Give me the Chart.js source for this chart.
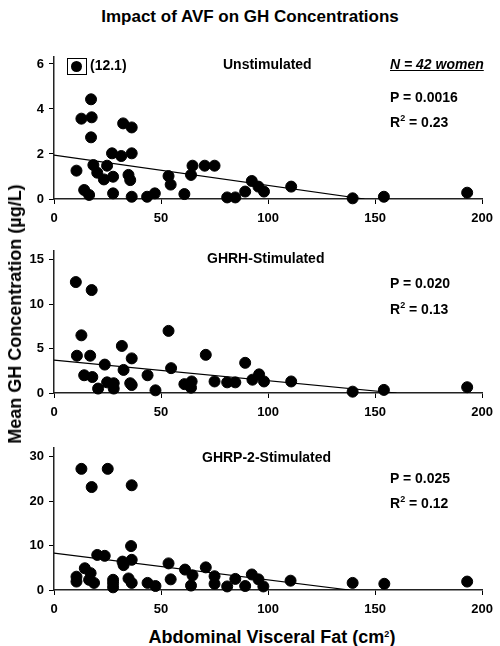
<!DOCTYPE html>
<html>
<head>
<meta charset="utf-8">
<script src="https://cdn.jsdelivr.net/npm/chart.js@4.4.1/dist/chart.umd.min.js"></script>
<style>
  body { margin: 0; width: 500px; height: 646px; position: relative; background: #fff; overflow: hidden;
         font-family: "Liberation Sans", Arial, sans-serif; font-weight: bold; color: #000; }
  canvas { position: absolute; left: 0; }
  .t { position: absolute; white-space: nowrap; font-size: 14px; line-height: 1; transform: translateY(-50%); }
  .c { transform: translate(-50%, -50%); }
  sup { font-size: 9px; vertical-align: 6px; line-height: 0; }
  .box { position: absolute; left: 67px; top: 58px; width: 18px; height: 15px; border: 1px solid #000; }
  .box div { position: absolute; left: 3px; top: 2px; width: 11px; height: 11px; border-radius: 50%; background: #000; }
</style>
</head>
<body>
<div class="t c" style="left:250px;top:16px;font-size:17px">Impact of AVF on GH Concentrations</div>

<canvas id="chartA" width="500" height="190" style="top:40px"></canvas>
<canvas id="chartB" width="500" height="190" style="top:234px"></canvas>
<canvas id="chartC" width="500" height="190" style="top:431px"></canvas>

<div class="box"><div></div></div>
<div class="t" style="left:90px;top:65px">(12.1)</div>
<div class="t" style="left:223px;top:64px">Unstimulated</div>
<div class="t" style="left:390px;top:64px;font-style:italic;text-decoration:underline">N = 42 women</div>
<div class="t" style="left:390px;top:97px">P = 0.0016</div>
<div class="t" style="left:390px;top:122px">R<sup>2</sup> = 0.23</div>

<div class="t" style="left:207px;top:258px">GHRH-Stimulated</div>
<div class="t" style="left:390px;top:283px">P = 0.020</div>
<div class="t" style="left:390px;top:309px">R<sup>2</sup> = 0.13</div>

<div class="t" style="left:202px;top:457px">GHRP-2-Stimulated</div>
<div class="t" style="left:390px;top:478px">P = 0.025</div>
<div class="t" style="left:390px;top:503px">R<sup>2</sup> = 0.12</div>

<div class="t c" style="left:272px;top:637px;font-size:18px">Abdominal Visceral Fat (cm<sup>2</sup>)</div>
<div class="t" style="left:15px;top:314px;font-size:18px;transform:translate(-50%,-50%) rotate(-90deg)">Mean GH Concentration (µg/L)</div>

<script>
// x = abdominal visceral fat (cm2), y = mean GH (ug/L)
const xTicks = [0, 50, 100, 150, 200];

const fatUnstim = [10.5, 12.8, 14.1, 16.4, 17.3, 17.6, 17.3, 18.4, 20.2, 23.3, 24.8, 27.1, 27.6, 27.6, 31.4, 32.3, 36.3, 36.3, 34.8, 35.6, 36.3, 43.5, 47.1, 53.5, 54.5, 60.9, 64, 64.7, 70.4, 75, 80.9, 84.7, 89.3, 92.4, 95.5, 98.1, 110.8, 139.5, 154.1, 193];
const ghUnstim = [1.26, 3.57, 0.4, 0.18, 4.43, 3.63, 2.74, 1.51, 1.17, 0.87, 1.48, 2.03, 0.99, 0.25, 1.91, 3.36, 3.18, 2.03, 1.07, 0.84, 0.1, 0.1, 0.25, 1.02, 0.64, 0.22, 1.07, 1.48, 1.48, 1.48, 0.07, 0.07, 0.33, 0.8, 0.55, 0.33, 0.55, 0.03, 0.1, 0.28];
const fitUnstimX = [0, 145];
const fitUnstimY = [1.95, 0];
const ticksUnstim = [0, 2, 4, 6];

const fatGhrh = [10.2, 17.6, 12.8, 10.7, 16.9, 31.7, 36.3, 23.7, 53.5, 70.9, 89.3, 54.7, 32.5, 14.1, 17.9, 20.6, 24.8, 27.9, 27.9, 35.6, 36.3, 43.7, 47.4, 60.9, 64.3, 64, 75, 80.9, 84.7, 92.7, 95.8, 98.1, 110.8, 139.5, 154.1, 193];
const ghGhrh = [12.5, 11.6, 6.5, 4.2, 4.2, 5.3, 3.9, 3.2, 7.0, 4.3, 3.4, 2.8, 2.6, 2.0, 1.8, 0.5, 1.2, 1.1, 0.5, 1.1, 0.9, 2.0, 0.3, 1.0, 1.3, 0.6, 1.3, 1.2, 1.2, 1.5, 2.1, 1.3, 1.3, 0.15, 0.35, 0.65];
const fitGhrhX = [0, 160];
const fitGhrhY = [3.7, 0];
const ticksGhrh = [0, 5, 10, 15];

const fatGhrp = [12.8, 17.6, 25.1, 36.3, 10.5, 10.5, 14.4, 17.1, 16.4, 18.7, 20.2, 23.7, 27.6, 27.6, 27.6, 32, 32.5, 34.8, 36, 36.3, 36.3, 43.7, 47.4, 53.5, 54.5, 61.2, 64, 64.7, 70.9, 75, 75, 80.9, 84.7, 89.3, 92.4, 95.5, 97.8, 110.5, 139.5, 154.3, 193];
const ghGhrp = [27.3, 23.2, 27.3, 23.6, 3.0, 1.9, 4.9, 3.8, 2.3, 1.6, 7.9, 7.7, 2.3, 1.5, 0.6, 6.4, 5.6, 2.6, 9.9, 6.8, 1.6, 1.6, 0.9, 6.0, 2.4, 4.6, 1.0, 3.3, 5.1, 3.1, 1.4, 0.8, 2.5, 0.9, 3.5, 2.4, 0.8, 2.1, 1.6, 1.4, 1.9];
const fitGhrpX = [0, 138];
const fitGhrpY = [8.3, 0];
const ticksGhrp = [0, 10, 20, 30];

const tickFont = { family: '"Liberation Sans", Arial, sans-serif', size: 13, weight: 'bold' };

function makePanel(id, fat, gh, fitX, fitY, yMax, yTicks) {
    const pts = fat.map((x, i) => ({ x: x, y: gh[i] }));
    const fit = fitX.map((x, i) => ({ x: x, y: fitY[i] }));
    return new Chart(document.getElementById(id), {
        type: 'scatter',
        data: {
            datasets: [{
                data: pts,
                backgroundColor: '#000',
                borderColor: '#000',
                pointRadius: 5.5,
                pointHoverRadius: 5.5,
                clip: false
            }, {
                type: 'line',
                data: fit,
                borderColor: '#000',
                borderWidth: 1.2,
                pointRadius: 0,
                fill: false
            }]
        },
        options: {
            responsive: false,
            animation: false,
            layout: { padding: { top: 17, right: 12, left: 0, bottom: 0 } },
            plugins: { legend: { display: false }, tooltip: { enabled: false } },
            scales: {
                x: {
                    type: 'linear', min: 0, max: 200,
                    afterFit: s => { s.height = 31; },
                    afterBuildTicks: s => { s.ticks = xTicks.map(v => ({ value: v })); },
                    grid: { drawOnChartArea: false, tickLength: 5, color: '#000' },
                    border: { color: '#222', width: 1.5 },
                    ticks: { color: '#000', font: tickFont, padding: 7, maxRotation: 0 }
                },
                y: {
                    type: 'linear', min: 0, max: yMax,
                    afterFit: s => { s.width = 54; },
                    afterBuildTicks: s => { s.ticks = yTicks.map(v => ({ value: v })); },
                    grid: { drawOnChartArea: false, tickLength: 5, color: '#000' },
                    border: { color: '#222', width: 1.5 },
                    ticks: { color: '#000', font: tickFont, padding: 5 }
                }
            }
        }
    });
}

makePanel('chartA', fatUnstim, ghUnstim, fitUnstimX, fitUnstimY, 6.31, ticksUnstim);
makePanel('chartB', fatGhrh, ghGhrh, fitGhrhX, fitGhrhY, 16, ticksGhrh);
makePanel('chartC', fatGhrp, ghGhrp, fitGhrpX, fitGhrpY, 32, ticksGhrp);
</script>
</body>
</html>
